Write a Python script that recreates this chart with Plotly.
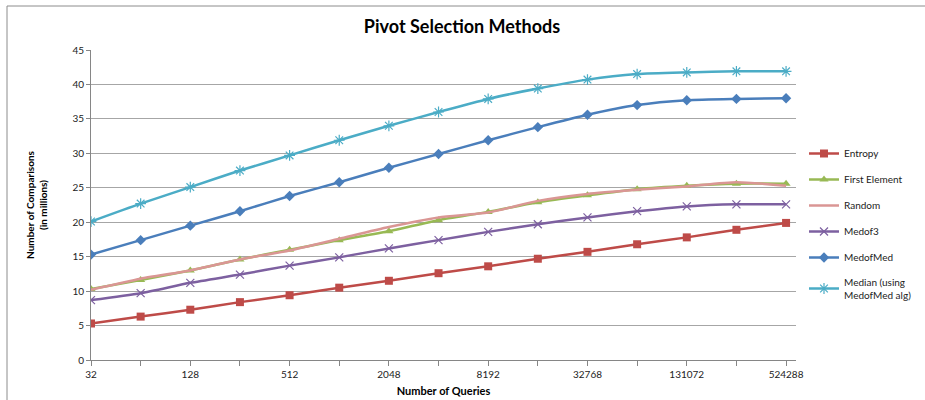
import plotly.graph_objects as go

queries = ["32", "64", "128", "256", "512", "1024", "2048", "4096", "8192",
           "16384", "32768", "65536", "131072", "262144", "524288"]
tick_labels = ["32", "", "128", "", "512", "", "2048", "", "8192", "", "32768", "", "131072", "", "524288"]

entropy = [5.3, 6.3, 7.3, 8.4, 9.4, 10.5, 11.5, 12.6, 13.6, 14.7, 15.7, 16.8, 17.8, 18.9, 19.9]
first_element = [10.3, 11.6, 13.0, 14.6, 16.0, 17.4, 18.7, 20.3, 21.5, 22.9, 23.9, 24.8, 25.3, 25.6, 25.6]
random_pivot = [10.2, 11.8, 13.0, 14.6, 15.9, 17.6, 19.3, 20.7, 21.4, 23.1, 24.1, 24.7, 25.2, 25.8, 25.3]
medof3 = [8.7, 9.7, 11.2, 12.4, 13.7, 14.9, 16.2, 17.4, 18.6, 19.7, 20.7, 21.6, 22.3, 22.6, 22.6]
medofmed = [15.3, 17.4, 19.5, 21.6, 23.8, 25.8, 27.9, 29.9, 31.9, 33.8, 35.6, 37.0, 37.7, 37.9, 38.0]
median = [20.1, 22.7, 25.1, 27.5, 29.7, 31.9, 34.0, 36.0, 37.9, 39.4, 40.7, 41.5, 41.75, 41.9, 41.9]

xs = list(range(len(queries)))

series = [
    ("Entropy", entropy, "#BE4B48", dict(symbol="square", size=8)),
    ("First Element", first_element, "#98B954", dict(symbol="triangle-up", size=8)),
    ("Random", random_pivot, "#DA9694", None),
    ("Medof3", medof3, "#7D60A0", dict(symbol="x-thin-open", size=8, line=dict(width=1.2, color="#7D60A0"))),
    ("MedofMed", medofmed, "#4A7EBB", dict(symbol="diamond", size=8)),
    ("Median (using<br>MedofMed alg)", median, "#4BACC6", dict(symbol="asterisk-open", size=9, line=dict(width=1.2, color="#4BACC6"))),
]

fig = go.Figure()
for i, (name, vals, color, marker) in enumerate(series):
    kw = {}
    if marker is None:
        mode = "lines"
    else:
        mode = "lines+markers"
        m = dict(marker)
        m.setdefault("color", color)
        kw["marker"] = m
    fig.add_trace(go.Scatter(
        x=xs, y=vals, name=name, mode=mode,
        line=dict(color=color, width=2.5, shape="spline", smoothing=0.6),
        legendgroup=f"g{i}", **kw))

ml, mr, mt, mb = 91, 129, 50, 40
W, H = 925, 400
pw, ph = W - ml - mr, H - mt - mb

def px_x(p):
    return (p - ml) / pw

def px_y(p):
    return (H - mb - p) / ph

fig.add_shape(type="rect", xref="paper", yref="paper",
              x0=px_x(7), x1=px_x(930), y0=px_y(405), y1=px_y(6),
              line=dict(color="#8C8C8C", width=1), layer="below")

fig.update_layout(
    width=W, height=H,
    margin=dict(l=ml, r=mr, t=mt, b=mb, autoexpand=False),
    paper_bgcolor="white", plot_bgcolor="white",
    font=dict(family="Lato, Open Sans, sans-serif", size=10, color="#222"),
    title=dict(text="<b>Pivot Selection Methods</b>", x=(462) / W, xanchor="center",
               y=1 - 27 / H, yanchor="middle", font=dict(size=18, color="#000")),
    showlegend=True,
    legend=dict(x=px_x(804), y=px_y(139), xanchor="left", yanchor="top",
                traceorder="grouped", tracegroupgap=7,
                font=dict(size=10, color="#222"), itemwidth=30),
    xaxis=dict(range=[0, 14.2], tickmode="array", tickvals=xs, ticktext=tick_labels,
               showgrid=False, zeroline=False, showline=True, linecolor="#868686",
               ticks="outside", ticklen=5, tickcolor="#868686",
               tickfont=dict(size=10),
               title=dict(text="<b>Number of Queries</b>", standoff=8, font=dict(size=11, color="#000"))),
    yaxis=dict(range=[0, 45], dtick=5, showgrid=True, gridcolor="#A6A6A6", gridwidth=1,
               zeroline=False, showline=True, linecolor="#868686",
               ticks="outside", ticklen=4, tickcolor="#868686",
               tickfont=dict(size=10),
               title=dict(text="<b>Number of Comparisons<br>(in millions)</b>", standoff=22,
                          font=dict(size=10, color="#000"))),
)

fig.write_html("out.html")
